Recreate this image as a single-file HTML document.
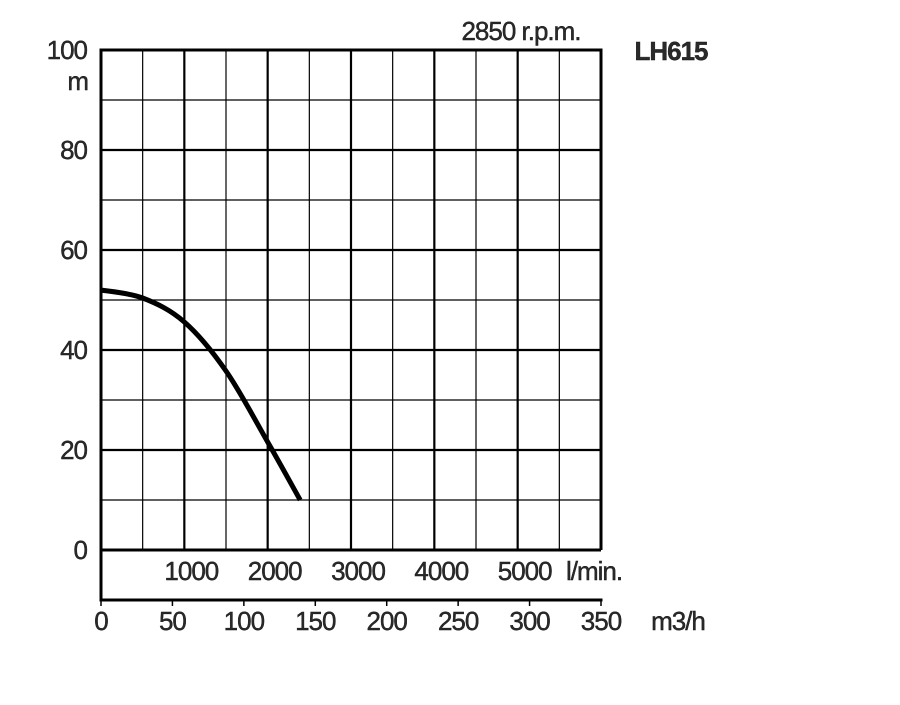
<!DOCTYPE html>
<html><head><meta charset="utf-8"><style>
html,body{margin:0;padding:0;background:#fff;}
svg text{font-family:"Liberation Sans",Arial,sans-serif;fill:#2a2a2a;letter-spacing:-1px;stroke:#111;stroke-width:0.4px;}
</style></head><body>
<svg id="chart" width="900" height="700" viewBox="0 0 900 700" xmlns="http://www.w3.org/2000/svg">
<g id="grid"></g>
<g id="labels"></g>
<path id="curve" fill="none" stroke="#000" stroke-width="5" stroke-linecap="butt" stroke-linejoin="round"/>
<text x="521" y="40" font-size="26" text-anchor="middle">2850 r.p.m.</text>
<text x="671" y="60" font-size="26" font-weight="bold" text-anchor="middle">LH615</text>
<text x="88" y="90" font-size="26" text-anchor="end">m</text>
<text x="594" y="580" font-size="26" text-anchor="middle">l/min.</text>
<text x="678" y="630" font-size="26" text-anchor="middle">m3/h</text>
</svg>
<script>
const flowLmin = [0, 500, 1000, 1500, 2000, 2390];
const headM = [52, 50.4, 45.6, 35.8, 21.6, 10];
const yTicks = [0, 20, 40, 60, 80, 100];
const lminTicks = [1000, 2000, 3000, 4000, 5000];
const m3hTicks = [0, 50, 100, 150, 200, 250, 300, 350];

const X0 = 101, X1 = 601, Y0 = 550, Y1 = 50;
const xL = v => X0 + v / 6000 * (X1 - X0);
const xM = v => X0 + v / 350 * (X1 - X0);
const y = v => Y0 - v / 100 * (Y0 - Y1);
const NS = "http://www.w3.org/2000/svg";
const grid = document.getElementById('grid');
const labels = document.getElementById('labels');
function line(x1,y1,x2,y2,w,name){
  const l=document.createElementNS(NS,'line');
  l.setAttribute('x1',x1);l.setAttribute('y1',y1);l.setAttribute('x2',x2);l.setAttribute('y2',y2);
  l.setAttribute('stroke','#000');l.setAttribute('stroke-width',w);
  
  
  grid.appendChild(l);
}
function text(x,yy,s,name,anchor){
  const t=document.createElementNS(NS,'text');
  t.setAttribute('x',x);t.setAttribute('y',yy);t.setAttribute('font-size','26');t.setAttribute('text-anchor',anchor||'middle');
  t.textContent=s;
  
  
  labels.appendChild(t);
}
for(let v=500; v<6000; v+=500){ line(xL(v),Y1,xL(v),Y0, v%1000===0?2.2:1.2,'v-gridline'); }
for(let v=10; v<100; v+=10){ line(X0,y(v),X1,y(v), v%20===0?2.2:1.2,'h-gridline'); }
line(X0-1.5,Y1,X1+1.5,Y1,3,'plot-border-top');
line(X0,Y1,X0,600,3,'plot-border-left');
line(X1,Y1,X1,Y0,3,'plot-border-right');
line(X0,Y0,X1,Y0,3,'plot-border-bottom');
line(X0-1.5,600,X1+1.5,600,3,'m3h-axis-line');
yTicks.forEach(v=>text(87,y(v)+9,v,'y-tick-label','end'));
lminTicks.forEach(v=>text(xL(v)+7,580,v,'lmin-tick-label'));
m3hTicks.forEach(v=>{ line(xM(v),600,xM(v),606,1.5,'m3h-tick'); text(xM(v),630,v,'m3h-tick-label'); });
const pts=flowLmin.map((f,i)=>[xL(f),y(headM[i])]);
let d='M'+pts[0][0]+' '+pts[0][1];
for(let i=0;i<pts.length-1;i++){
  const p0=pts[Math.max(0,i-1)],p1=pts[i],p2=pts[i+1],p3=pts[Math.min(pts.length-1,i+2)];
  const c1=[p1[0]+(p2[0]-p0[0])/6,p1[1]+(p2[1]-p0[1])/6];
  const c2=[p2[0]-(p3[0]-p1[0])/6,p2[1]-(p3[1]-p1[1])/6];
  d+=` C${c1[0]} ${c1[1]} ${c2[0]} ${c2[1]} ${p2[0]} ${p2[1]}`;
}
document.getElementById('curve').setAttribute('d',d);
</script>
</body></html>
